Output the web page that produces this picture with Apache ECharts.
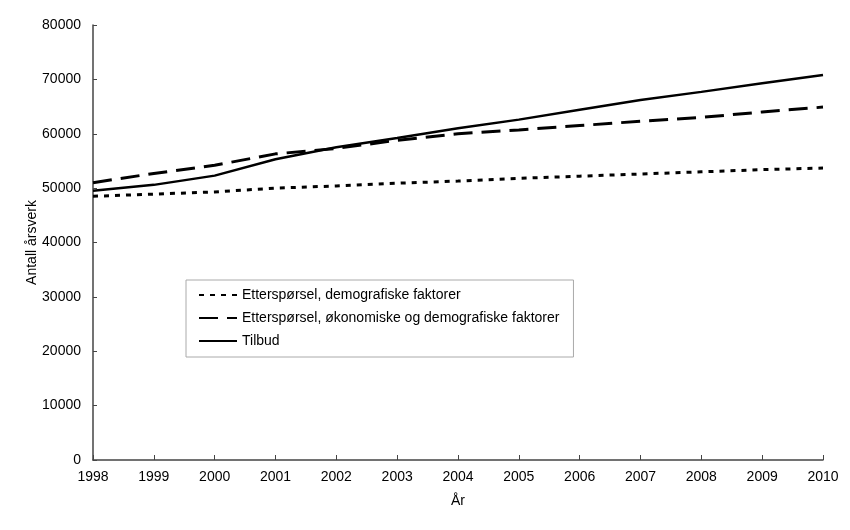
<!DOCTYPE html>
<html>
<head>
<meta charset="utf-8">
<script src="https://cdn.jsdelivr.net/npm/echarts@6/dist/echarts.min.js"></script>
<style>
  html, body { margin: 0; padding: 0; background: #fff; }
  #chart { width: 850px; height: 530px; }
</style>
</head>
<body>
<div id="chart"></div>
<script>
// år og verdier lest av figuren
const years = ["1998", "1999", "2000", "2001", "2002", "2003", "2004", "2005", "2006", "2007", "2008", "2009", "2010"];
const demografiske = [48500, 48900, 49300, 50000, 50400, 50900, 51300, 51800, 52200, 52600, 53000, 53400, 53700];
const okonomiske = [51000, 52700, 54200, 56300, 57300, 58800, 60000, 60700, 61500, 62300, 63000, 64000, 64900];
const tilbud = [49500, 50600, 52300, 55300, 57500, 59200, 61000, 62600, 64400, 66200, 67700, 69300, 70800];

const font = "Liberation Sans, Arial, sans-serif";

let chart = echarts.init(document.getElementById("chart"));

let option = {
  animation: false,
  textStyle: { fontFamily: font, color: "#000" },
  grid: { left: 93, right: 27, top: 25, bottom: 70 },
  legend: {
    orient: "vertical",
    left: 186,
    top: 280,
    padding: [8, 14, 9, 12],
    borderColor: "#aaa",
    borderWidth: 1,
    itemWidth: 38,
    itemHeight: 14,
    itemGap: 9,
    itemStyle: { opacity: 0 },
    textStyle: { fontFamily: font, fontSize: 14, color: "#000" },
    data: [
      "Etterspørsel, demografiske faktorer",
      "Etterspørsel, økonomiske og demografiske faktorer",
      "Tilbud"
    ]
  },
  xAxis: {
    type: "category",
    boundaryGap: false,
    data: years,
    name: "År",
    nameLocation: "middle",
    nameGap: 34,
    nameTextStyle: { fontFamily: font, fontSize: 14, color: "#000" },
    axisLine: { lineStyle: { color: "#444", width: 1.5 } },
    axisTick: { inside: true, length: 5, lineStyle: { color: "#444" } },
    axisLabel: { fontFamily: font, fontSize: 14, color: "#000", margin: 10 }
  },
  yAxis: {
    type: "value",
    min: 0,
    max: 80000,
    interval: 10000,
    name: "Antall årsverk",
    nameLocation: "middle",
    nameGap: 54,
    nameMoveOverlap: false,
    nameTextStyle: { fontFamily: font, fontSize: 14, color: "#000" },
    axisLine: { show: true, lineStyle: { color: "#444", width: 1.5 } },
    axisTick: { show: true, inside: true, length: 4, lineStyle: { color: "#444" } },
    axisLabel: {
      fontFamily: font,
      fontSize: 14,
      color: "#000",
      margin: 12,
      formatter: (v) => String(v)
    },
    splitLine: { show: false }
  },
  series: [
    {
      name: "Etterspørsel, demografiske faktorer",
      type: "line",
      symbol: "none",
      data: demografiske,
      lineStyle: { color: "#000", width: 3, type: [5, 6] },
      itemStyle: { color: "#000" }
    },
    {
      name: "Etterspørsel, økonomiske og demografiske faktorer",
      type: "line",
      symbol: "none",
      data: okonomiske,
      lineStyle: { color: "#000", width: 3, type: [19, 9] },
      itemStyle: { color: "#000" }
    },
    {
      name: "Tilbud",
      type: "line",
      symbol: "none",
      data: tilbud,
      lineStyle: { color: "#000", width: 2.5 },
      itemStyle: { color: "#000" }
    }
  ]
};

chart.setOption(option);
</script>
</body>
</html>
